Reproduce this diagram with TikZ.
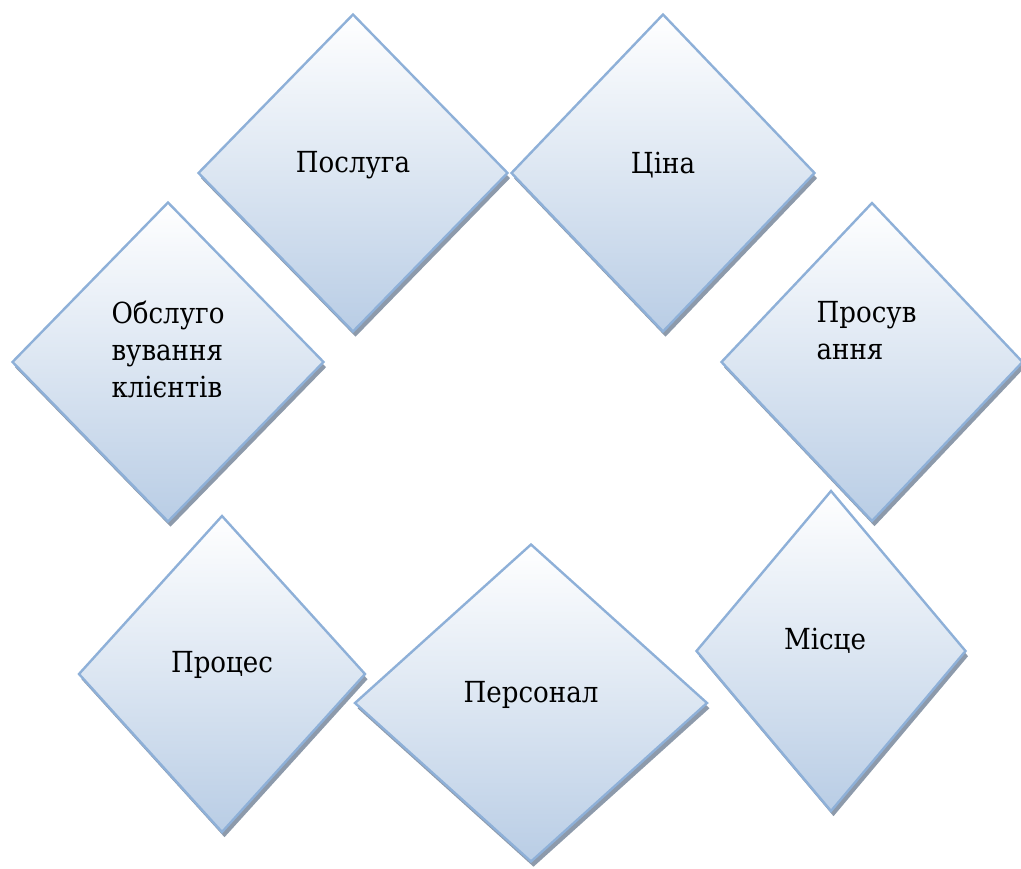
\documentclass[tikz,border=0pt]{standalone}
\usepackage{fontspec}
\setmainfont{DejaVu Serif Condensed}
\usetikzlibrary{shapes.geometric,shadows}
\definecolor{edgeblue}{HTML}{8EB0D8}
\definecolor{fillblue}{HTML}{B9CDE5}
\definecolor{shadowgray}{HTML}{8D9AAB}

\begin{document}
\begin{tikzpicture}[
    x=0.5pt, y=-0.5pt,
    rhomb/.style={diamond, draw=edgeblue, line width=1.2pt, inner sep=0pt, top color=white, bottom color=fillblue, drop shadow={shadow xshift=1.25pt, shadow yshift=-2.6pt, fill=shadowgray, opacity=1}},
    lbl/.style={font=\fontsize{14.5}{18.5}\selectfont, align=left, inner sep=0pt},
  ]
    \useasboundingbox (0,0) rectangle (1021,868);

    \node[rhomb, minimum width=155pt, minimum height=159pt] (posluha) at (353,173) {};
    \node[rhomb, minimum width=152pt, minimum height=159pt] (tsina) at (663,173) {};
    \node[rhomb, minimum width=156pt, minimum height=160pt] (obsluh) at (168,362) {};
    \node[rhomb, minimum width=151pt, minimum height=159.5pt] (prosuv) at (872,362) {};
    \node[rhomb, minimum width=143.5pt, minimum height=158.5pt] (protses) at (222,674) {};
    \node[rhomb, minimum width=176.5pt, minimum height=159pt] (personal) at (531,703) {};
    \node[rhomb, minimum width=135pt, minimum height=160.5pt] (mistse) at (831,651) {};

    \node[lbl] (posluha-t) at ([yshift=4pt]posluha.center) {Послуга};
    \node[lbl] (tsina-t) at ([yshift=4pt]tsina.center) {Ціна};
    \node[lbl] (obsluh-t) at ([yshift=6.5pt]obsluh.center) {Обслуго\\вування\\клієнтів};
    \node[lbl] (prosuv-t) at ([xshift=-2.75pt, yshift=15.5pt]prosuv.center) {Просув\\ання};
    \node[lbl] (protses-t) at ([yshift=4.5pt]protses.center) {Процес};
    \node[lbl] (personal-t) at ([yshift=4pt]personal.center) {Персонал};
    \node[lbl] (mistse-t) at ([xshift=-3pt, yshift=5pt]mistse.center) {Місце};
  \end{tikzpicture}
\end{document}
